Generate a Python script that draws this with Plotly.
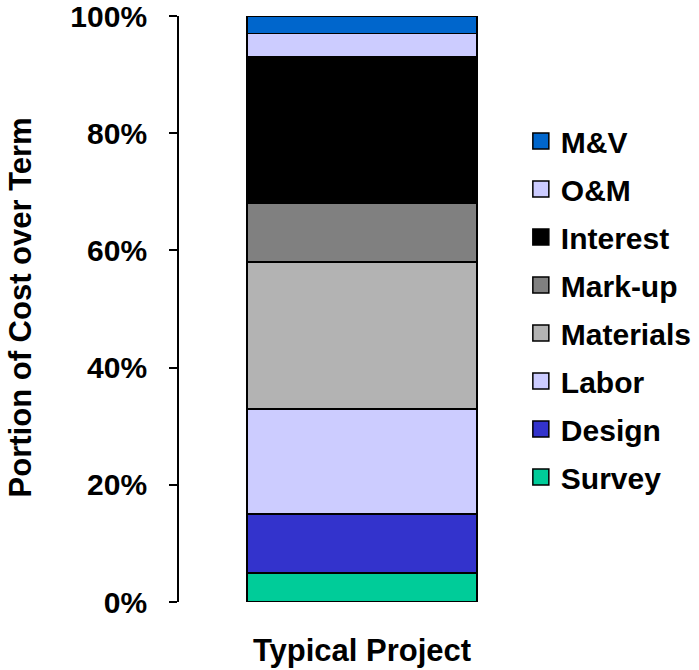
import plotly.graph_objects as go

# Cost components of a typical project, bottom of the stack first
categories = ["Typical Project"]
components = ["Survey", "Design", "Labor", "Materials", "Mark-up", "Interest", "O&M", "M&V"]
shares = [0.05, 0.10, 0.18, 0.25, 0.10, 0.25, 0.04, 0.03]
colors = ["#00CC99", "#3333CC", "#CCCCFF", "#B3B3B3", "#808080", "#000000", "#CCCCFF", "#0066CC"]
y_ticks = [0, 0.2, 0.4, 0.6, 0.8, 1.0]
y_title = "Portion of Cost over Term"

FONT = "Liberation Sans, Arial, sans-serif"

fig = go.Figure()

# Stacked bar segments
for name, share, color in zip(components, shares, colors):
    fig.add_trace(go.Bar(
        x=categories,
        y=[share],
        name=name,
        marker=dict(color=color, line=dict(color="#000000", width=1.8)),
        width=0.63,
        showlegend=False,
        hovertemplate=name + ": %{y:.0%}<extra></extra>",
    ))

# Legend entries, listed top of the stack first, with large square swatches
for name, color in zip(components[::-1], colors[::-1]):
    fig.add_trace(go.Scatter(
        x=[None], y=[None],
        mode="markers",
        name=name,
        legendgroup=name,
        marker=dict(symbol="square", size=16, color=color,
                    line=dict(color="#000000", width=1.5)),
    ))

# Vertical axis title, placed at the far left edge
fig.add_annotation(
    text=y_title,
    xref="paper", yref="paper",
    x=-0.434, y=0.503,
    xanchor="center", yanchor="middle",
    textangle=-90,
    showarrow=False,
    font=dict(family=FONT, size=31, color="#000000", weight="bold"),
)

fig.update_layout(
    width=699,
    height=670,
    barmode="stack",
    plot_bgcolor="white",
    paper_bgcolor="white",
    margin=dict(l=179, r=154, t=16, b=68, autoexpand=False),
    font=dict(family=FONT, size=30, color="#000000"),
    legend=dict(
        x=0.934, xanchor="left",
        y=0.5, yanchor="middle",
        traceorder="grouped",
        tracegroupgap=6,
        font=dict(family=FONT, size=30, color="#000000", weight="bold"),
        bgcolor="rgba(0,0,0,0)",
    ),
    xaxis=dict(
        automargin=False,
        showline=False,
        showgrid=False,
        zeroline=False,
        ticks="",
        ticklabelstandoff=27,
        tickfont=dict(family=FONT, size=31, color="#000000", weight="bold"),
    ),
    yaxis=dict(
        automargin=False,
        range=[0, 1],
        tickvals=y_ticks,
        tickformat=".0%",
        ticks="outside",
        ticklen=8,
        tickwidth=1.8,
        tickcolor="#000000",
        showline=True,
        linewidth=1.8,
        linecolor="#000000",
        showgrid=False,
        zeroline=False,
        ticklabelstandoff=16,
        ticklabeloverflow="allow",
        tickfont=dict(family=FONT, size=30, color="#000000", weight="bold"),
    ),
)

fig.write_html("out.html")
